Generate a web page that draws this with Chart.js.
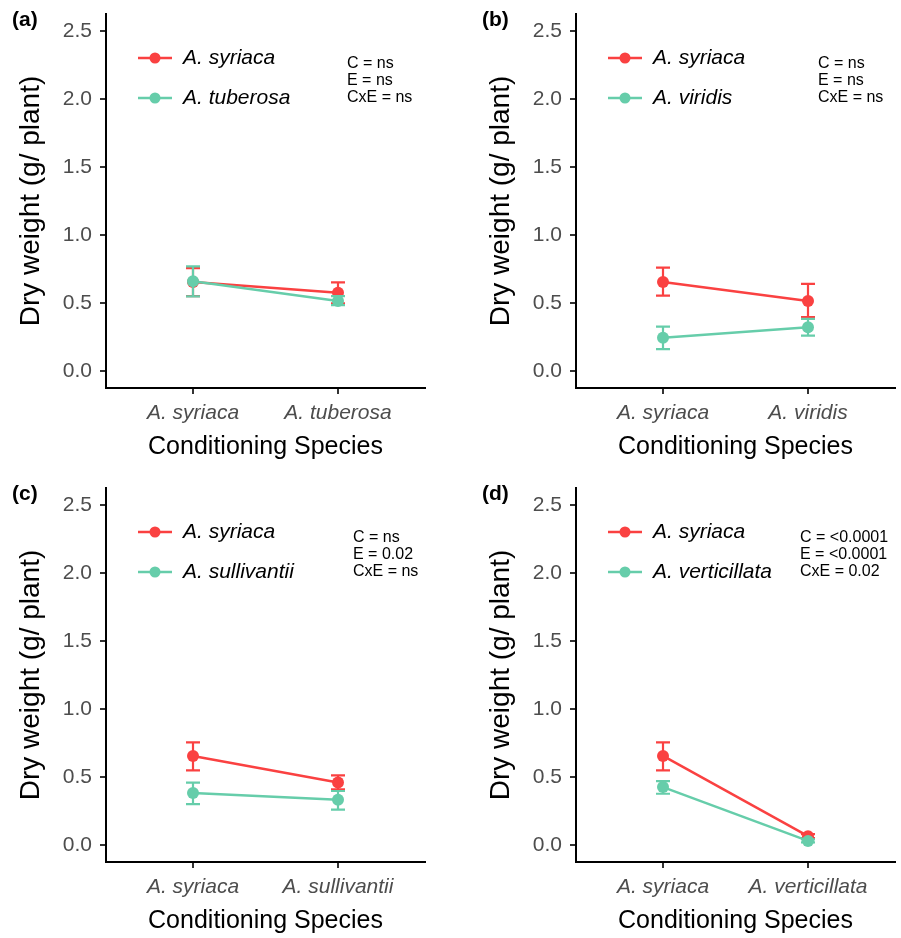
<!DOCTYPE html>
<html>
<head>
<meta charset="utf-8">
<script src="https://cdn.jsdelivr.net/npm/chart.js@4.4.1/dist/chart.umd.min.js"></script>
<style>
  html, body { margin: 0; padding: 0; background: #fff; }
  #wrap { position: relative; width: 901px; height: 938px; overflow: hidden; }
  canvas { position: absolute; }
</style>
</head>
<body>
<div id="wrap">
  <canvas id="c0" width="431" height="464" style="left:0px;top:0px"></canvas>
  <canvas id="c1" width="431" height="464" style="left:470px;top:0px"></canvas>
  <canvas id="c2" width="431" height="464" style="left:0px;top:474px"></canvas>
  <canvas id="c3" width="431" height="464" style="left:470px;top:474px"></canvas>
</div>
<script>
// ---------------- DATA ----------------
const panelLabels = ['(a)', '(b)', '(c)', '(d)'];
const conditioningSpecies = [
  ['A. syriaca', 'A. tuberosa'],
  ['A. syriaca', 'A. viridis'],
  ['A. syriaca', 'A. sullivantii'],
  ['A. syriaca', 'A. verticillata']
];
const seriesNames = [
  ['A. syriaca', 'A. tuberosa'],
  ['A. syriaca', 'A. viridis'],
  ['A. syriaca', 'A. sullivantii'],
  ['A. syriaca', 'A. verticillata']
];
const syriacaMean  = [[0.655, 0.575], [0.655, 0.515], [0.655, 0.460], [0.655, 0.065]];
const syriacaLower = [[0.551, 0.498], [0.554, 0.396], [0.549, 0.410], [0.549, 0.050]];
const syriacaUpper = [[0.757, 0.652], [0.760, 0.640], [0.755, 0.512], [0.755, 0.080]];
const otherMean    = [[0.660, 0.515], [0.245, 0.322], [0.382, 0.333], [0.426, 0.030]];
const otherLower   = [[0.548, 0.485], [0.161, 0.260], [0.301, 0.260], [0.377, 0.020]];
const otherUpper   = [[0.770, 0.550], [0.326, 0.383], [0.458, 0.397], [0.470, 0.042]];
const statsC   = ['C = ns', 'C = ns', 'C = ns', 'C = <0.0001'];
const statsE   = ['E = ns', 'E = ns', 'E = 0.02', 'E = <0.0001'];
const statsCxE = ['CxE = ns', 'CxE = ns', 'CxE = ns', 'CxE = 0.02'];
const yTicks = [0, 0.5, 1.0, 1.5, 2.0, 2.5];
const xPositions = [1, 2];
const yAxisTitle = 'Dry weight (g/ plant)';
const xAxisTitle = 'Conditioning Species';

// ---------------- STYLE ----------------
const RED = '#FA4141';
const TEAL = '#66CDAA';
const FONT = '"Liberation Sans", Arial, Helvetica, sans-serif';
const statsX = [347, 348, 353, 330];

const errorBarPlugin = {
  id: 'errorBars',
  beforeDatasetDraw(chart, args) {
    const ds = chart.data.datasets[args.index];
    if (!ds.errLow) return;
    const ctx = chart.ctx, xs = chart.scales.x, ys = chart.scales.y;
    ctx.save();
    ctx.strokeStyle = ds.borderColor;
    ctx.lineWidth = 2.2;
    ds.data.forEach((p, i) => {
      const x = xs.getPixelForValue(p.x);
      const yl = ys.getPixelForValue(ds.errLow[i]);
      const yh = ys.getPixelForValue(ds.errHigh[i]);
      ctx.beginPath();
      ctx.moveTo(x, yl); ctx.lineTo(x, yh);
      ctx.moveTo(x - 7, yl); ctx.lineTo(x + 7, yl);
      ctx.moveTo(x - 7, yh); ctx.lineTo(x + 7, yh);
      ctx.stroke();
    });
    ctx.restore();
  }
};

const annotPlugin = {
  id: 'annot',
  afterDraw(chart) {
    const o = chart.options.plugins.annot;
    const ctx = chart.ctx;
    ctx.save();
    // panel label
    ctx.fillStyle = '#000';
    ctx.font = 'bold 21px ' + FONT;
    ctx.textBaseline = 'middle';
    ctx.textAlign = 'left';
    ctx.fillText(o.label, 12, 20);
    // legend
    const rows = [58, 98];
    const cols = [RED, TEAL];
    o.names.forEach((n, i) => {
      const y = rows[i];
      ctx.strokeStyle = cols[i];
      ctx.lineWidth = 2.5;
      ctx.beginPath(); ctx.moveTo(138, y); ctx.lineTo(172, y); ctx.stroke();
      ctx.fillStyle = cols[i];
      ctx.beginPath(); ctx.arc(155, y, 5.5, 0, Math.PI * 2); ctx.fill();
      ctx.fillStyle = '#000';
      ctx.font = 'italic 21px ' + FONT;
      ctx.fillText(n, 183, y);
    });
    // stats
    ctx.font = '16px ' + FONT;
    ctx.fillStyle = '#000';
    o.stats.forEach((s, i) => ctx.fillText(s, o.sx, 64 + i * 17));
    ctx.restore();
  }
};

function makePanel(k) {
  const cats = conditioningSpecies[k];
  const ctx = document.getElementById('c' + k);
  new Chart(ctx, {
    type: 'line',
    data: {
      datasets: [
        {
          label: seriesNames[k][0],
          data: xPositions.map((x, i) => ({ x: x, y: syriacaMean[k][i] })),
          errLow: syriacaLower[k], errHigh: syriacaUpper[k],
          borderColor: RED, backgroundColor: RED,
          pointBackgroundColor: RED, pointBorderWidth: 0,
          pointRadius: 6, borderWidth: 2.5, order: 2
        },
        {
          label: seriesNames[k][1],
          data: xPositions.map((x, i) => ({ x: x, y: otherMean[k][i] })),
          errLow: otherLower[k], errHigh: otherUpper[k],
          borderColor: TEAL, backgroundColor: TEAL,
          pointBackgroundColor: TEAL, pointBorderWidth: 0,
          pointRadius: 6, borderWidth: 2.5, order: 1
        }
      ]
    },
    options: {
      responsive: false,
      devicePixelRatio: 1,
      animation: false,
      layout: { padding: { left: 0, top: 14, right: 3, bottom: 0 } },
      plugins: {
        legend: { display: false },
        tooltip: { enabled: false },
        annot: {
          label: panelLabels[k],
          names: seriesNames[k],
          stats: [statsC[k], statsE[k], statsCxE[k]],
          sx: statsX[k]
        }
      },
      scales: {
        x: {
          type: 'linear', min: 0.4, max: 2.6,
          afterBuildTicks: (s) => { s.ticks = xPositions.map(v => ({ value: v })); },
          afterFit: (s) => { s.height = 76; s.paddingLeft = 0; s.paddingRight = 0; },
          ticks: {
            callback: (v) => cats[xPositions.indexOf(v)],
            color: '#4D4D4D',
            font: { family: FONT, size: 21, style: 'italic' },
            padding: 7, maxRotation: 0, autoSkip: false
          },
          grid: { display: true, drawOnChartArea: false, drawTicks: true, tickLength: 6, color: '#333', lineWidth: 2 },
          border: { display: true, color: '#000', width: 2 },
          title: { display: true, text: xAxisTitle, color: '#000', font: { family: FONT, size: 25 }, padding: { top: 0, bottom: 2 } }
        },
        y: {
          min: -0.125, max: 2.625,
          afterBuildTicks: (s) => { s.ticks = yTicks.map(v => ({ value: v })); },
          afterFit: (s) => { s.width = 106; s.paddingTop = 0; s.paddingBottom = 0; },
          ticks: {
            callback: (v) => v.toFixed(1),
            color: '#4D4D4D',
            font: { family: FONT, size: 21 },
            padding: 8
          },
          grid: { display: true, drawOnChartArea: false, drawTicks: true, tickLength: 6, color: '#333', lineWidth: 2 },
          border: { display: true, color: '#000', width: 2 },
          title: { display: true, text: yAxisTitle, color: '#000', font: { family: FONT, size: 28 }, padding: { top: 14, bottom: 0 } }
        }
      }
    },
    plugins: [errorBarPlugin, annotPlugin]
  });
}
[0, 1, 2, 3].forEach(makePanel);
</script>
</body>
</html>
